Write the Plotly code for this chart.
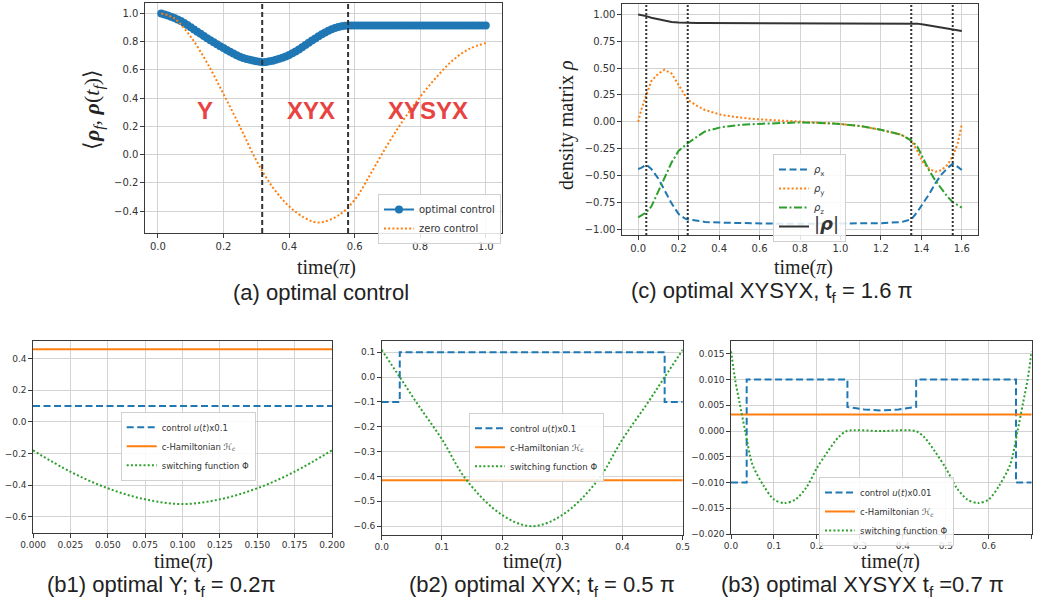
import numpy as np
import plotly.graph_objects as go

W, H = 1038, 604

# ---------------- data ----------------
# (a) fidelity vs final time
a_t = [round(0.01 * i, 2) for i in range(1, 101)]
a_opt = [1.000, 0.993, 0.985, 0.977, 0.968, 0.958, 0.946, 0.933, 0.918, 0.902,
         0.887, 0.871, 0.856, 0.840, 0.825, 0.810, 0.796, 0.782, 0.768, 0.755,
         0.742, 0.729, 0.716, 0.704, 0.694, 0.685, 0.678, 0.672, 0.667, 0.662,
         0.658, 0.655, 0.657, 0.661, 0.666, 0.672, 0.679, 0.687, 0.696, 0.706,
         0.718, 0.731, 0.745, 0.760, 0.776, 0.792, 0.808, 0.823, 0.838, 0.852,
         0.865, 0.877, 0.888, 0.897, 0.904, 0.909, 0.913, 0.915, 0.915, 0.915,
         0.915, 0.915, 0.915, 0.915, 0.915, 0.915, 0.915, 0.915, 0.915, 0.915,
         0.915, 0.915, 0.915, 0.915, 0.915, 0.915, 0.915, 0.915, 0.915, 0.915,
         0.915, 0.915, 0.915, 0.915, 0.915, 0.915, 0.915, 0.915, 0.915, 0.915,
         0.915, 0.915, 0.915, 0.915, 0.915, 0.915, 0.915, 0.915, 0.915, 0.915]
a_zero_t = [0.01, 0.05, 0.10, 0.15, 0.20, 0.25, 0.30, 0.35, 0.40, 0.45, 0.49,
            0.55, 0.60, 0.65, 0.70, 0.75, 0.80, 0.85, 0.90, 0.95, 1.00]
a_zero = [1.00, 0.965, 0.835, 0.65, 0.43, 0.20, -0.04, -0.23, -0.365, -0.45, -0.48,
          -0.43, -0.32, -0.13, 0.07, 0.25, 0.41, 0.55, 0.67, 0.75, 0.79]
a_switch = [0.318, 0.58]
a_regions = ["Y", "XYX", "XYSYX"]
a_region_x = [0.144, 0.468, 0.823]
a_region_y = 0.314

# (c) density matrix components, XYSYX, tf = 1.6 pi
c_t = [0, 0.015, 0.04, 0.065, 0.1, 0.13, 0.165, 0.2, 0.23, 0.245, 0.29, 0.33, 0.41,
       0.5, 0.58, 0.7, 0.8, 0.9, 1.0, 1.1, 1.2, 1.3, 1.35, 1.38, 1.41, 1.44, 1.47,
       1.5, 1.53, 1.555, 1.58, 1.6]
c_rx = [-0.44, -0.43, -0.40, -0.44, -0.53, -0.63, -0.76, -0.86, -0.90, -0.91, -0.925,
        -0.933, -0.94, -0.945, -0.948, -0.95, -0.95, -0.95, -0.95, -0.948, -0.945,
        -0.935, -0.91, -0.84, -0.76, -0.67, -0.57, -0.49, -0.43, -0.39, -0.42, -0.45]
c_ry = [0.0, 0.11, 0.25, 0.38, 0.45, 0.485, 0.45, 0.34, 0.25, 0.205, 0.15, 0.11, 0.065,
        0.04, 0.025, 0.012, 0.005, -0.005, -0.02, -0.04, -0.075, -0.12, -0.175, -0.27,
        -0.385, -0.44, -0.465, -0.45, -0.40, -0.32, -0.20, -0.02]
c_rz = [-0.89, -0.875, -0.845, -0.79, -0.65, -0.53, -0.38, -0.27, -0.22, -0.20, -0.14,
        -0.09, -0.05, -0.03, -0.02, -0.01, -0.006, -0.01, -0.02, -0.04, -0.075, -0.12,
        -0.175, -0.23, -0.34, -0.46, -0.55, -0.63, -0.70, -0.75, -0.78, -0.80]
c_rn = [1.0, 0.995, 0.985, 0.97, 0.955, 0.94, 0.93, 0.925, 0.922, 0.921, 0.92, 0.92,
        0.92, 0.92, 0.92, 0.92, 0.92, 0.92, 0.92, 0.92, 0.92, 0.919, 0.918, 0.915,
        0.907, 0.898, 0.89, 0.882, 0.873, 0.865, 0.855, 0.846]
c_switch = [0.04, 0.245, 1.35, 1.555]

# (b1) optimal Y, tf = 0.2 pi
b1_t = [0.0, 0.2]
b1_u = [0.1, 0.1]
b1_hc = [0.46, 0.46]
b1_phi_t = [0.0, 0.025, 0.05, 0.075, 0.1, 0.125, 0.15, 0.175, 0.2]
b1_phi = [-0.18, -0.315, -0.42, -0.49, -0.52, -0.49, -0.42, -0.315, -0.18]

# (b2) optimal XYX, tf = 0.5 pi
b2_u_t = [0.0, 0.03, 0.47, 0.5]
b2_u = [-0.1, 0.1, -0.1, -0.1]
b2_hc_t = [0.0, 0.5]
b2_hc = [-0.415, -0.415]
b2_phi_t = [0.0, 0.03, 0.06, 0.1, 0.141, 0.2, 0.25, 0.3, 0.359, 0.4, 0.44, 0.47, 0.5]
b2_phi = [0.11, 0.0, -0.11, -0.25, -0.415, -0.555, -0.60, -0.555, -0.415, -0.25, -0.11, 0.0, 0.11]

# (b3) optimal XYSYX, tf = 0.7 pi
b3_u_t = [0.0, 0.0365, 0.0365, 0.271, 0.271, 0.31, 0.35, 0.39, 0.431, 0.431, 0.6635, 0.6635, 0.7]
b3_u = [-0.01, -0.01, 0.01, 0.01, 0.0047, 0.0042, 0.0040, 0.0042, 0.0047, 0.01, 0.01, -0.01, -0.01]
b3_hc_t = [0.0, 0.7]
b3_hc = [0.0032, 0.0032]
b3_phi_t = [0.0, 0.01, 0.02, 0.033, 0.05, 0.075, 0.1, 0.125, 0.15, 0.175, 0.2, 0.225, 0.25,
            0.27, 0.35, 0.43, 0.45, 0.475, 0.5, 0.525, 0.55, 0.575, 0.6, 0.625, 0.65,
            0.667, 0.68, 0.69, 0.7]
b3_phi = [0.0155, 0.0098, 0.0055, 0.0, -0.0065, -0.0105, -0.0133, -0.014, -0.0133, -0.011,
          -0.0072, -0.004, -0.0012, 0.0, 0.0, 0.0, -0.0012, -0.004, -0.0072, -0.011,
          -0.0133, -0.014, -0.0133, -0.0105, -0.0065, 0.0, 0.0055, 0.0098, 0.0155]

captions = ["(a) optimal control",
            "(c) optimal XYSYX, t<sub>f</sub> = 1.6 π",
            "(b1) optimal Y; t<sub>f</sub> = 0.2π",
            "(b2) optimal XYX; t<sub>f</sub> = 0.5 π",
            "(b3) optimal XYSYX t<sub>f</sub> =0.7 π"]

# ---------------- style ----------------
BLUE, ORANGE, GREEN, RED = "#1f77b4", "#ff7f0e", "#2ca02c", "#e84340"
DASH, DOT, DASHDOT = "7px,3.5px", "2px,2.2px", "8px,2.5px,2px,2.5px"
TICKF = "DejaVu Sans"
SERIF = "Liberation Serif"
SANS = "Liberation Sans"


def fx(p):
    return p / W


def fy(p):
    return 1 - p / H


fig = go.Figure()

# (a)
fig.add_trace(go.Scatter(x=a_t, y=a_opt, mode="lines+markers", name="optimal control",
                         line=dict(color=BLUE, width=2), marker=dict(color=BLUE, size=8),
                         xaxis="x", yaxis="y", legend="legend"))
fig.add_trace(go.Scatter(x=a_zero_t, y=a_zero, mode="lines", name="zero control",
                         line=dict(color=ORANGE, width=2, dash=DOT, shape="spline"),
                         xaxis="x", yaxis="y", legend="legend"))

# (c)
fig.add_trace(go.Scatter(x=c_t, y=c_rx, mode="lines", name="<i>ρ</i><sub>x</sub>",
                         line=dict(color=BLUE, width=2, dash=DASH),
                         xaxis="x2", yaxis="y2", legend="legend2"))
fig.add_trace(go.Scatter(x=c_t, y=c_ry, mode="lines", name="<i>ρ</i><sub>y</sub>",
                         line=dict(color=ORANGE, width=2, dash=DOT),
                         xaxis="x2", yaxis="y2", legend="legend2"))
fig.add_trace(go.Scatter(x=c_t, y=c_rz, mode="lines", name="<i>ρ</i><sub>z</sub>",
                         line=dict(color=GREEN, width=2, dash=DASHDOT),
                         xaxis="x2", yaxis="y2", legend="legend2"))
fig.add_trace(go.Scatter(x=c_t, y=c_rn, mode="lines",
                         name="<span style='font-size:18px'>|<b><i>ρ</i></b>|</span>",
                         line=dict(color="#333333", width=2),
                         xaxis="x2", yaxis="y2", legend="legend2"))

# (b1)
fig.add_trace(go.Scatter(x=b1_t, y=b1_u, mode="lines", name="control <i>u</i>(<i>t</i>)x0.1",
                         line=dict(color=BLUE, width=2, dash=DASH),
                         xaxis="x3", yaxis="y3", legend="legend3"))
fig.add_trace(go.Scatter(x=b1_t, y=b1_hc, mode="lines", name="c-Hamiltonian ℋ<sub><i>c</i></sub>",
                         line=dict(color=ORANGE, width=2),
                         xaxis="x3", yaxis="y3", legend="legend3"))
fig.add_trace(go.Scatter(x=b1_phi_t, y=b1_phi, mode="lines", name="switching function Φ",
                         line=dict(color=GREEN, width=2, dash=DOT, shape="spline"),
                         xaxis="x3", yaxis="y3", legend="legend3"))

# (b2)
fig.add_trace(go.Scatter(x=b2_u_t, y=b2_u, mode="lines", name="control <i>u</i>(<i>t</i>)x0.1",
                         line=dict(color=BLUE, width=2, dash=DASH, shape="hv"),
                         xaxis="x4", yaxis="y4", legend="legend4"))
fig.add_trace(go.Scatter(x=b2_hc_t, y=b2_hc, mode="lines", name="c-Hamiltonian ℋ<sub><i>c</i></sub>",
                         line=dict(color=ORANGE, width=2),
                         xaxis="x4", yaxis="y4", legend="legend4"))
fig.add_trace(go.Scatter(x=b2_phi_t, y=b2_phi, mode="lines", name="switching function Φ",
                         line=dict(color=GREEN, width=2, dash=DOT, shape="spline"),
                         xaxis="x4", yaxis="y4", legend="legend4"))

# (b3)
fig.add_trace(go.Scatter(x=b3_u_t, y=b3_u, mode="lines", name="control <i>u</i>(<i>t</i>)x0.01",
                         line=dict(color=BLUE, width=2, dash=DASH),
                         xaxis="x5", yaxis="y5", legend="legend5"))
fig.add_trace(go.Scatter(x=b3_hc_t, y=b3_hc, mode="lines", name="c-Hamiltonian ℋ<sub><i>c</i></sub>",
                         line=dict(color=ORANGE, width=2),
                         xaxis="x5", yaxis="y5", legend="legend5"))
fig.add_trace(go.Scatter(x=b3_phi_t, y=b3_phi, mode="lines", name="switching function Φ",
                         line=dict(color=GREEN, width=2, dash=DOT, shape="spline", smoothing=0.8),
                         xaxis="x5", yaxis="y5", legend="legend5"))


def axis(dom, anchor, rng, tickvals, fmt, size):
    return dict(domain=dom, anchor=anchor, range=rng, tickvals=tickvals, tickformat=fmt,
                automargin=False,
                showgrid=True, gridcolor="#d3d3d3", gridwidth=1, zeroline=False,
                showline=True, mirror=True, linecolor="#3a3a3a", linewidth=1.2,
                ticks="outside", ticklen=3.5, tickwidth=1, tickcolor="#3a3a3a",
                tickfont=dict(family=TICKF, size=size, color="#333333"))


layout = dict(template="none", width=W, height=H,
              margin=dict(l=0, r=0, t=0, b=0, pad=0, autoexpand=False),
              paper_bgcolor="white", plot_bgcolor="white", showlegend=True)

# panel boxes in pixels: (left, top, right, bottom)
boxes = {"a": (145, 3, 502, 233), "c": (622, 4, 978, 235),
         "b1": (33, 341, 332, 533), "b2": (381.7, 341, 682.7, 535),
         "b3": (731, 341, 1031.7, 534)}


def dom(b):
    l, t, r, bt = b
    return [fx(l), fx(r)], [fy(bt), fy(t)]


xd, yd = dom(boxes["a"])
layout["xaxis"] = axis(xd, "y", [-0.0395, 1.0495], [0, 0.2, 0.4, 0.6, 0.8, 1.0], ".1f", 10)
layout["yaxis"] = axis(yd, "x", [-0.554, 1.074], [-0.4, -0.2, 0, 0.2, 0.4, 0.6, 0.8, 1.0], ".1f", 10)
xd, yd = dom(boxes["c"])
layout["xaxis2"] = axis(xd, "y2", [-0.08, 1.68], [0, 0.2, 0.4, 0.6, 0.8, 1.0, 1.2, 1.4, 1.6], ".1f", 10)
layout["yaxis2"] = axis(yd, "x2", [-1.055, 1.098], [-1, -0.75, -0.5, -0.25, 0, 0.25, 0.5, 0.75, 1.0], ".2f", 10)
xd, yd = dom(boxes["b1"])
layout["xaxis3"] = axis(xd, "y3", [0, 0.2], [0, 0.025, 0.05, 0.075, 0.1, 0.125, 0.15, 0.175, 0.2], ".3f", 9)
layout["yaxis3"] = axis(yd, "x3", [-0.703, 0.512], [-0.6, -0.4, -0.2, 0, 0.2, 0.4], ".1f", 9)
xd, yd = dom(boxes["b2"])
layout["xaxis4"] = axis(xd, "y4", [0, 0.5], [0, 0.1, 0.2, 0.3, 0.4, 0.5], ".1f", 9)
layout["yaxis4"] = axis(yd, "x4", [-0.6355, 0.1455], [-0.6, -0.5, -0.4, -0.3, -0.2, -0.1, 0, 0.1], ".1f", 9)
xd, yd = dom(boxes["b3"])
layout["xaxis5"] = axis(xd, "y5", [0, 0.7], [0, 0.1, 0.2, 0.3, 0.4, 0.5, 0.6, 0.7], ".1f", 9)
layout["yaxis5"] = axis(yd, "x5", [-0.02, 0.0175],
                        [-0.02, -0.015, -0.01, -0.005, 0, 0.005, 0.01, 0.015], ".3f", 9)


def leg(xp, yp, size):
    return dict(x=fx(xp), y=fy(yp), xanchor="left", yanchor="top",
                bgcolor="rgba(255,255,255,0.85)", bordercolor="#d0d0d0", borderwidth=1,
                font=dict(family=TICKF, size=size, color="#333333"), itemwidth=30,
                tracegroupgap=0)


layout["legend"] = leg(378, 194, 10)
layout["legend2"] = leg(773, 154, 10)
layout["legend3"] = leg(120.7, 411.7, 8.5)
layout["legend4"] = leg(469, 412.7, 8.5)
layout["legend5"] = leg(819, 477, 8.5)

shapes = []
for s in a_switch:
    shapes.append(dict(type="line", xref="x", yref="y domain", x0=s, x1=s, y0=0, y1=1,
                       line=dict(color="#333333", width=2, dash="5px,3px")))
for s in c_switch:
    shapes.append(dict(type="line", xref="x2", yref="y2 domain", x0=s, x1=s, y0=0, y1=1,
                       line=dict(color="#333333", width=2, dash="2px,2px")))
layout["shapes"] = shapes

ann = []
for lab, xv in zip(a_regions, a_region_x):
    ann.append(dict(x=xv, y=a_region_y, xref="x", yref="y", text=f"<b>{lab}</b>", showarrow=False,
                    xanchor="center", yanchor="middle",
                    font=dict(family=SANS, size=24, color=RED)))


def pann(xc, yc, text, size, family, angle=0):
    return dict(x=fx(xc), y=fy(yc), xref="paper", yref="paper", text=text, showarrow=False,
                xanchor="center", yanchor="middle", textangle=angle,
                font=dict(family=family, size=size, color="#222222"))


# axis titles
for xc, yc in [(326, 267), (803, 267), (183, 561), (532, 561), (890, 561)]:
    ann.append(pann(xc, yc, "time(<i>π</i>)", 20, SERIF))
ann.append(pann(93, 110, "⟨<b><i>ρ</i></b><sub><i>f</i></sub>, <b><i>ρ</i></b>(<i>t</i><sub><i>f</i></sub>)⟩",
                22, SERIF, -90))
ann.append(pann(566, 125, "density matrix <i>ρ</i>", 20, SERIF, -90))

# captions
for txt, (xc, yc) in zip(captions, [(321, 292), (772, 292), (161, 586), (542, 586), (862, 586)]):
    ann.append(pann(xc, yc, txt, 22, SANS))
layout["annotations"] = ann

fig.update_layout(**layout)
fig.write_html("out.html", config={"displayModeBar": False},
               post_script="document.body.style.margin='0px';document.body.style.overflow='hidden';")
